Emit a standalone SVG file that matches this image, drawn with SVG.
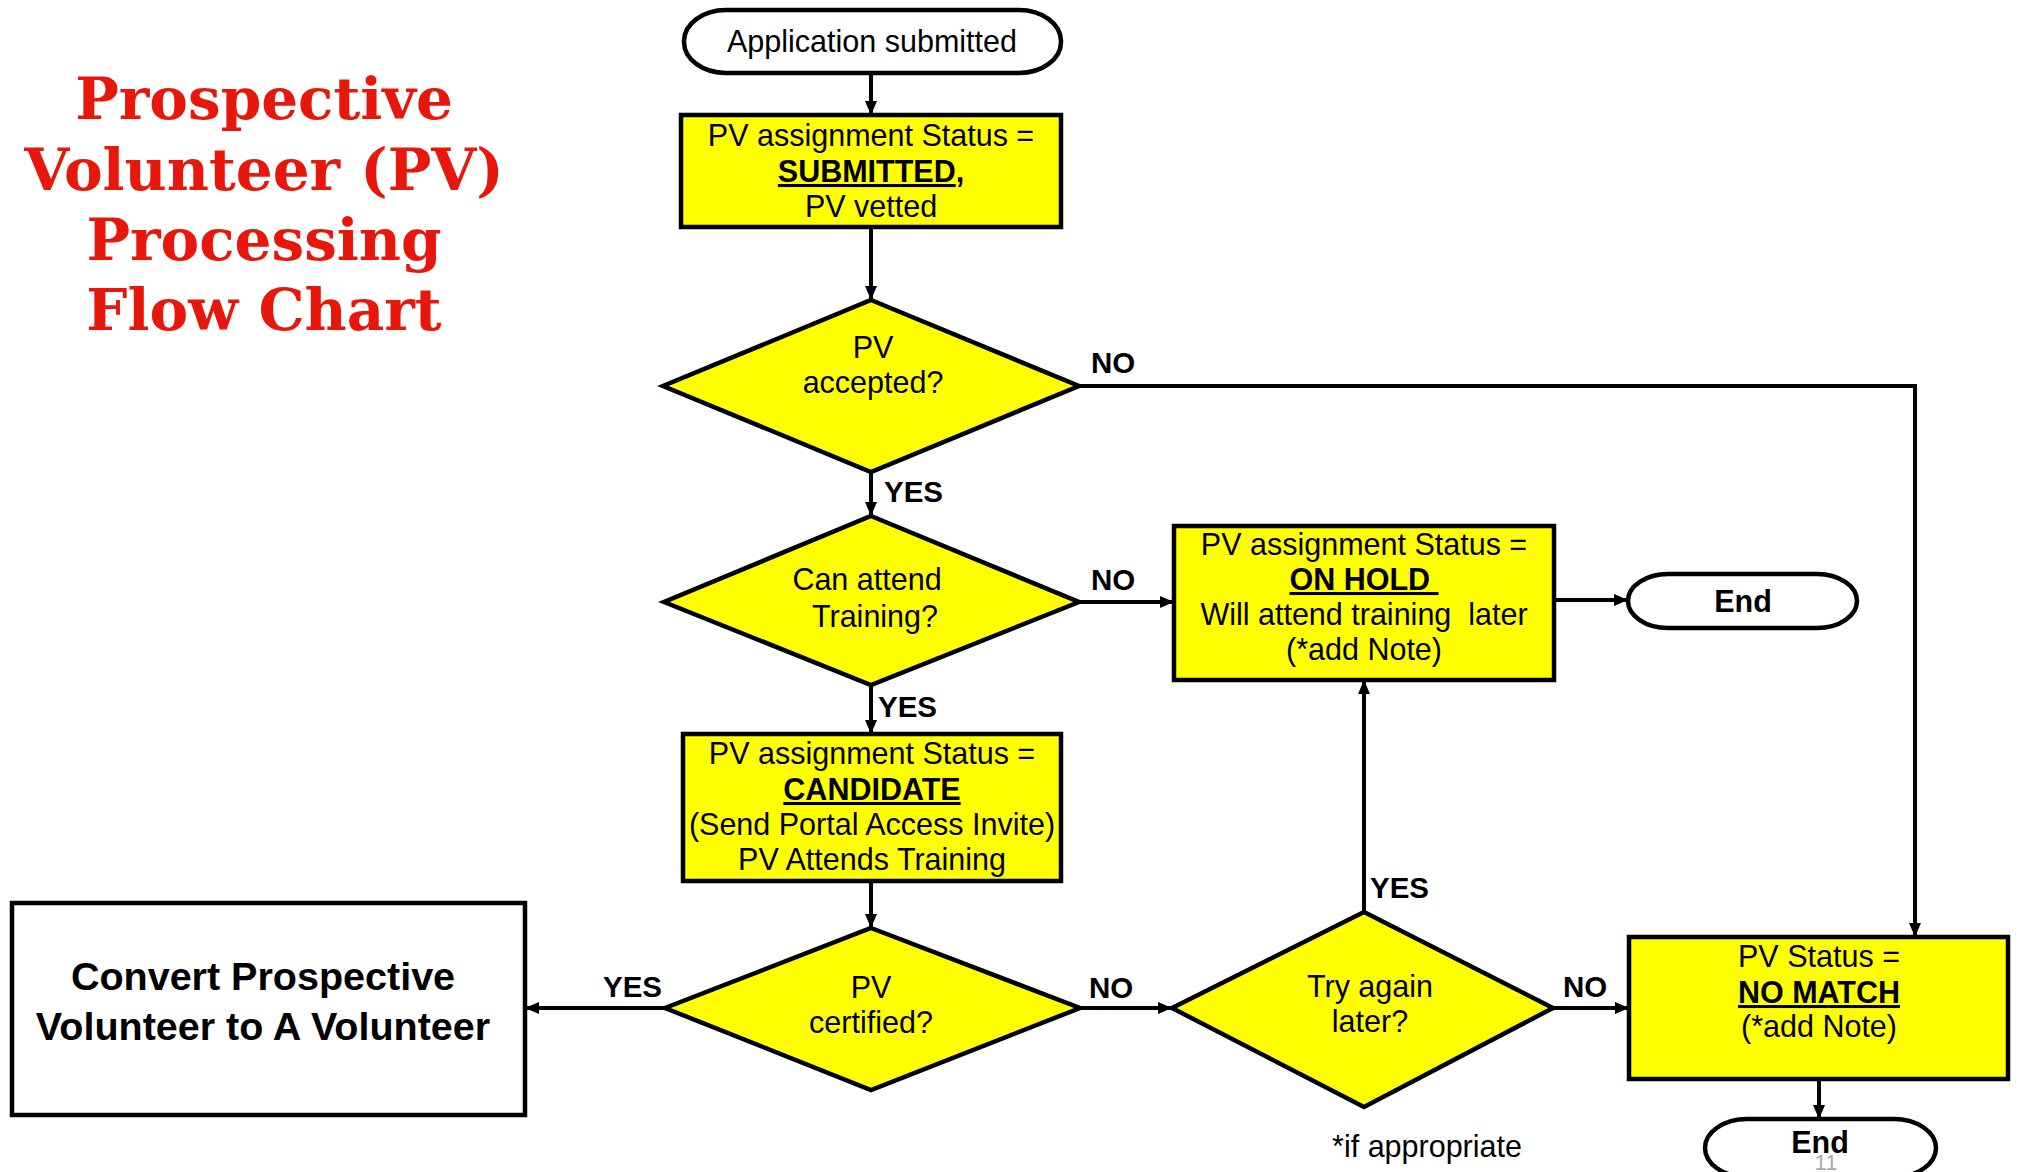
<svg xmlns="http://www.w3.org/2000/svg" width="2021" height="1172" viewBox="0 0 2021 1172">
<defs>
<style>
.t{font-family:"Liberation Sans",Arial,sans-serif;font-size:30.5px;fill:#000;text-anchor:middle}
.b{font-weight:bold}
.u{text-decoration:underline}
.lbl{font-family:"Liberation Sans",Arial,sans-serif;font-size:29.5px;font-weight:bold;fill:#000}
.box{fill:#ffff00;stroke:#000;stroke-width:4.5}
.term{fill:#fff;stroke:#000;stroke-width:4.5}
.dia{fill:#ffff00;stroke:#000;stroke-width:4.5;stroke-linejoin:miter}
.con{fill:none;stroke:#000;stroke-width:4;marker-end:url(#arr)}
.title{font-family:"DejaVu Serif","Liberation Serif",serif;font-weight:bold;font-size:58px;fill:#e8170c;text-anchor:middle}
</style>
<marker id="arr" markerWidth="14" markerHeight="12" refX="14" refY="6" orient="auto" markerUnits="userSpaceOnUse">
<path d="M0,0 L14,6 L0,12 z" fill="#000"/>
</marker>
</defs>
<rect width="2021" height="1172" fill="#fff"/>

<g id="title">
<text class="title" x="264" y="119">Prospective</text>
<text class="title" x="264" y="190">Volunteer (PV)</text>
<text class="title" x="264" y="260">Processing</text>
<text class="title" x="264" y="330">Flow Chart</text>
</g>

<g id="connectors">
<line class="con" x1="871" y1="73" x2="871" y2="115"/>
<line class="con" x1="871" y1="228" x2="871" y2="300"/>
<line class="con" x1="871" y1="472" x2="871" y2="516"/>
<polyline class="con" points="1079,386 1915,386 1915,937"/>
<line class="con" x1="1079" y1="602" x2="1174" y2="602"/>
<line class="con" x1="1554" y1="600" x2="1628" y2="600"/>
<line class="con" x1="871" y1="685" x2="871" y2="734"/>
<line class="con" x1="871" y1="881" x2="871" y2="928"/>
<line class="con" x1="665" y1="1008" x2="525" y2="1008"/>
<line class="con" x1="1080" y1="1008" x2="1172" y2="1008"/>
<line class="con" x1="1364" y1="912" x2="1364" y2="680"/>
<line class="con" x1="1553" y1="1008" x2="1629" y2="1008"/>
<line class="con" x1="1819" y1="1079" x2="1819" y2="1119"/>
<text class="lbl" x="1091" y="373">NO</text>
<text class="lbl" x="884" y="502">YES</text>
<text class="lbl" x="1091" y="590">NO</text>
<text class="lbl" x="878" y="717">YES</text>
<text class="lbl" x="603" y="997">YES</text>
<text class="lbl" x="1089" y="998">NO</text>
<text class="lbl" x="1370" y="898">YES</text>
<text class="lbl" x="1563" y="997">NO</text>
</g>

<g id="start">
<rect class="term" x="684" y="10" width="377" height="63" rx="42" ry="31"/>
<text class="t" x="872" y="52">Application submitted</text>
</g>

<g id="submitted">
<rect class="box" x="681" y="115" width="380" height="112"/>
<text class="t" x="871" y="146">PV assignment Status =</text>
<text class="t" x="871" y="182"><tspan class="b u">SUBMITTED</tspan><tspan class="b">,</tspan></text>
<text class="t" x="871" y="217">PV vetted</text>
</g>

<g id="accepted">
<polygon class="dia" points="871,300 1079,386 871,472 663,386"/>
<text class="t" x="873" y="358">PV</text>
<text class="t" x="873" y="393">accepted?</text>
</g>

<g id="training">
<polygon class="dia" points="871,516 1079,602 871,685 664,602"/>
<text class="t" x="867" y="590">Can attend</text>
<text class="t" x="875" y="627">Training?</text>
</g>

<g id="onhold">
<rect class="box" x="1174" y="526" width="380" height="154"/>
<text class="t" x="1364" y="555">PV assignment Status =</text>
<text class="t b u" x="1364" y="590" style="white-space:pre">ON HOLD </text>
<text class="t" x="1364" y="625" style="white-space:pre">Will attend training  later</text>
<text class="t" x="1364" y="660">(*add Note)</text>
</g>

<g id="end1">
<rect class="term" x="1628" y="574" width="229" height="54" rx="40" ry="27"/>
<text class="t b" x="1743" y="612">End</text>
</g>

<g id="candidate">
<rect class="box" x="683" y="734" width="378" height="147"/>
<text class="t" x="872" y="764">PV assignment Status =</text>
<text class="t b u" x="872" y="800">CANDIDATE</text>
<text class="t" x="872" y="835">(Send Portal Access Invite)</text>
<text class="t" x="872" y="870">PV Attends Training</text>
</g>

<g id="certified">
<polygon class="dia" points="871,928 1080,1008 871,1090 665,1008"/>
<text class="t" x="871" y="998">PV</text>
<text class="t" x="871" y="1033">certified?</text>
</g>

<g id="convert">
<rect x="12" y="903" width="513" height="212" fill="#fff" stroke="#000" stroke-width="4.5"/>
<text class="t b" x="263" y="990" style="font-size:39.5px">Convert Prospective</text>
<text class="t b" x="263" y="1040" style="font-size:39.5px">Volunteer to A Volunteer</text>
</g>

<g id="tryagain">
<polygon class="dia" points="1364,912 1553,1008 1364,1107 1172,1008"/>
<text class="t" x="1370" y="997">Try again</text>
<text class="t" x="1370" y="1032">later?</text>
</g>

<g id="nomatch">
<rect class="box" x="1629" y="937" width="379" height="142"/>
<text class="t" x="1819" y="967">PV Status =</text>
<text class="t b u" x="1819" y="1003">NO MATCH</text>
<text class="t" x="1819" y="1037">(*add Note)</text>
</g>

<g id="end2">
<rect class="term" x="1705" y="1119" width="231" height="58" rx="42" ry="29"/>
<text class="t b" x="1820" y="1153">End</text>
</g>

<text class="t" x="1427" y="1157" style="font-size:30.5px">*if appropriate</text>
<text x="1826" y="1170" style="font-family:'Liberation Sans',Arial,sans-serif;font-size:22px;fill:#aaa;text-anchor:middle">11</text>
</svg>
